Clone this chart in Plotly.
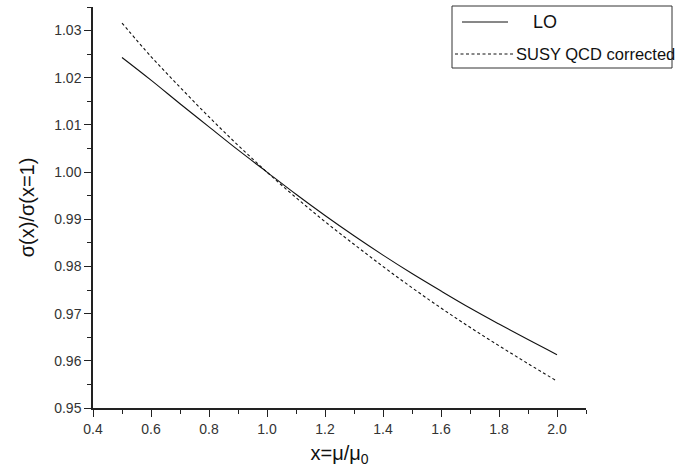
import plotly.graph_objects as go

x_vals = [0.5, 0.6, 0.7, 0.8, 0.9, 1.0, 1.1, 1.2, 1.3, 1.4, 1.5, 1.6, 1.7, 1.8, 1.9, 2.0]
lo_vals = [1.0243, 1.0195, 1.0145, 1.0096, 1.0047, 1.0000, 0.9953, 0.9908,
           0.9865, 0.9824, 0.9785, 0.9748, 0.9712, 0.9678, 0.9645, 0.9613]
susy_vals = [1.0316, 1.0245, 1.0180, 1.0117, 1.0057, 1.0000, 0.9946, 0.9895,
             0.9847, 0.9800, 0.9755, 0.9712, 0.9671, 0.9632, 0.9594, 0.9557]
series_names = ["LO", "SUSY QCD corrected"]

FONT = "Liberation Sans, Arial, sans-serif"
W, H = 678, 475
L, R, T, B = 93, 586, 7, 408

def px(xp):
    return (xp - L) / (R - L)

def py(yp):
    return (B - yp) / (B - T)

fig = go.Figure()
fig.add_trace(go.Scatter(x=x_vals, y=lo_vals, mode="lines", name=series_names[0],
                         line=dict(color="#111", width=1.1, shape="spline"), showlegend=False))
fig.add_trace(go.Scatter(x=x_vals, y=susy_vals, mode="lines", name=series_names[1],
                         line=dict(color="#111", width=1.1, dash="3px,2.5px", shape="spline"),
                         showlegend=False))

# legend box drawn in paper coordinates
shapes = [
    dict(type="rect", xref="paper", yref="paper", x0=px(452), x1=px(672), y0=py(68), y1=py(6),
         line=dict(color="#333", width=1), fillcolor="white", layer="above"),
    dict(type="line", xref="paper", yref="paper", x0=px(462), x1=px(508), y0=py(22), y1=py(22),
         line=dict(color="#111", width=1), layer="above"),
    dict(type="line", xref="paper", yref="paper", x0=px(455), x1=px(513), y0=py(54), y1=py(54),
         line=dict(color="#111", width=1, dash="3px,2.5px"), layer="above"),
]
annotations = [
    dict(xref="paper", yref="paper", x=px(545), y=py(22), text=series_names[0], showarrow=False,
         xanchor="center", yanchor="middle", font=dict(family=FONT, size=18, color="#111")),
    dict(xref="paper", yref="paper", x=px(514), y=py(54), text=series_names[1], showarrow=False,
         xanchor="left", yanchor="middle", font=dict(family=FONT, size=16.5, color="#111")),
]

axis_common = dict(showline=True, linecolor="#222", linewidth=1.5, ticks="outside",
                   ticklen=7, tickwidth=1.3, tickcolor="#222", showgrid=False, zeroline=False,
                   tickfont=dict(family=FONT, size=14, color="#333"))

fig.update_layout(
    width=W, height=H,
    margin=dict(l=L, r=W - R, t=T, b=H - B),
    plot_bgcolor="white", paper_bgcolor="white",
    xaxis=dict(range=[0.4, 2.1], tick0=0.4, dtick=0.2, tickformat=".1f",
               minor=dict(ticks="outside", ticklen=4, dtick=0.1, tick0=0.4, tickcolor="#222", tickwidth=1.2),
               title=dict(text="x=μ/μ<sub>0</sub>", font=dict(family=FONT, size=20, color="#111"), standoff=10),
               **axis_common),
    yaxis=dict(range=[0.95, 1.035], tick0=0.95, dtick=0.01, tickformat=".2f",
               minor=dict(ticks="outside", ticklen=4, dtick=0.005, tick0=0.95, tickcolor="#222", tickwidth=1.2),
               title=dict(text="σ(x)/σ(x=1)", font=dict(family=FONT, size=20, color="#111"), standoff=14),
               **axis_common),
    shapes=shapes,
    annotations=annotations,
)

fig.write_html("out.html")
